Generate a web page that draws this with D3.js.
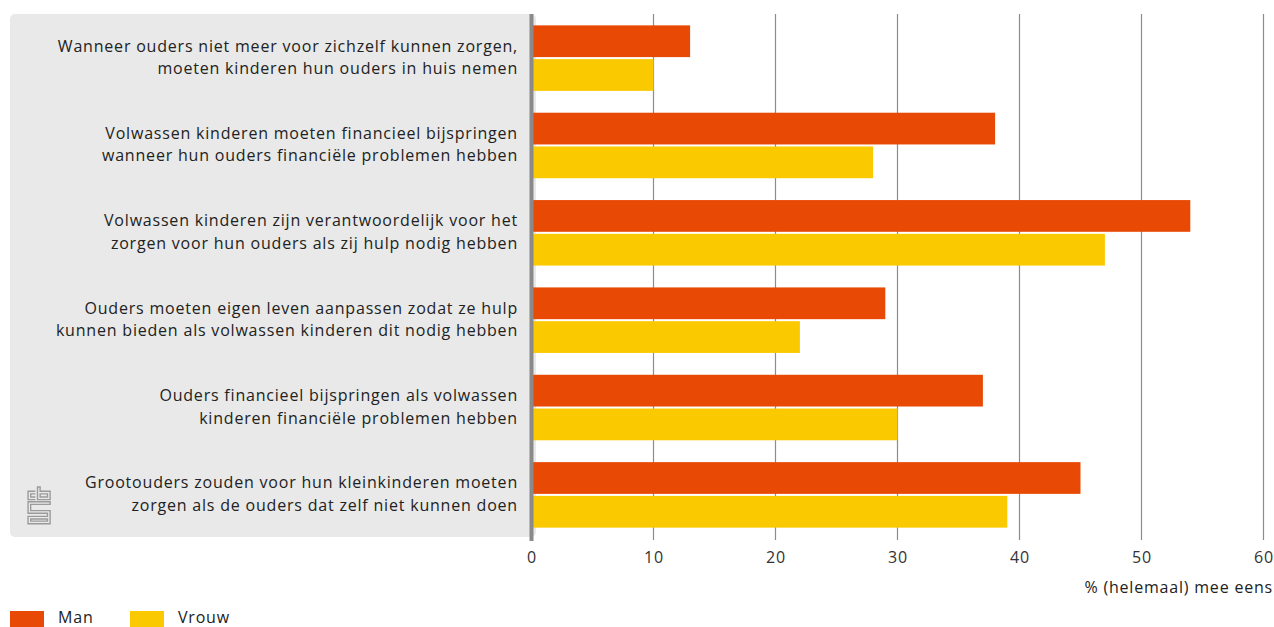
<!DOCTYPE html>
<html lang="nl">
<head>
<meta charset="UTF-8">
<title>Zorg tussen ouders en kinderen</title>
<script src="https://d3js.org/d3.v7.min.js"></script>
<style>
    body { margin: 0; background: #ffffff; }
    svg text { font-family: "Open Sans", "Noto Sans", sans-serif; letter-spacing: 0.8px; }
    .cat { fill: #222; font-size: 16px; text-anchor: end; }
    .tick text { fill: #333; font-size: 16px; }
    .lg { fill: #222; font-size: 16px; }
</style>
</head>
<body>
<svg width="1274" height="627"></svg>
<script>
// data
var categories = [
    ["Wanneer ouders niet meer voor zichzelf kunnen zorgen,", "moeten kinderen hun ouders in huis nemen"],
    ["Volwassen kinderen moeten financieel bijspringen", "wanneer hun ouders financiële problemen hebben"],
    ["Volwassen kinderen zijn verantwoordelijk voor het", "zorgen voor hun ouders als zij hulp nodig hebben"],
    ["Ouders moeten eigen leven aanpassen zodat ze hulp", "kunnen bieden als volwassen kinderen dit nodig hebben"],
    ["Ouders financieel bijspringen als volwassen", "kinderen financiële problemen hebben"],
    ["Grootouders zouden voor hun kleinkinderen moeten", "zorgen als de ouders dat zelf niet kunnen doen"]
];
var man = [13, 38, 54, 29, 37, 45];
var vrouw = [10, 28, 47, 22, 30, 39];
var seriesNames = ["Man", "Vrouw"];
var seriesColors = ["#e84a05", "#fbc900"];
var xTicks = [0, 10, 20, 30, 40, 50, 60];
var xTitle = "% (helemaal) mee eens";

var svg = d3.select("svg");

var x = d3.scaleLinear().domain([0, 60]).range([531.5, 1263.5]);
var y0 = d3.scaleBand().domain(d3.range(categories.length)).range([14, 539]).paddingInner(0.25).paddingOuter(0.13);
var y1 = d3.scaleBand().domain([0, 1]).range([0, y0.bandwidth()]).paddingInner(0.06);

// grey label panel
svg.append("rect")
    .attr("x", 10).attr("y", 14)
    .attr("width", 526).attr("height", 523)
    .attr("rx", 5)
    .attr("fill", "#e8e9e8");

// gridlines
svg.append("g").selectAll("line")
    .data(xTicks.slice(1))
    .join("line")
    .attr("x1", d => x(d)).attr("x2", d => x(d))
    .attr("y1", 14).attr("y2", 540)
    .attr("stroke", "#8c8c8c").attr("stroke-width", 1.2);

// bars
var groups = svg.append("g").selectAll("g")
    .data(categories)
    .join("g")
    .attr("transform", (d, i) => "translate(0," + y0(i) + ")");

groups.selectAll("rect")
    .data((d, i) => [man[i], vrouw[i]])
    .join("rect")
    .attr("x", x(0) + 1.5)
    .attr("y", (d, j) => y1(j))
    .attr("width", d => x(d) - x(0) - 1.5)
    .attr("height", y1.bandwidth())
    .attr("fill", (d, j) => seriesColors[j]);

// category labels
groups.append("text")
    .attr("class", "cat")
    .attr("x", 518)
    .attr("y", y0.bandwidth() / 2)
    .selectAll("tspan")
    .data(d => d)
    .join("tspan")
    .attr("x", 518)
    .attr("dy", (d, k) => k === 0 ? "-0.4em" : "1.4em")
    .text(d => d);

// zero axis line
svg.append("line")
    .attr("x1", x(0)).attr("x2", x(0))
    .attr("y1", 14).attr("y2", 541)
    .attr("stroke", "#8a8a8a").attr("stroke-width", 4);

// x axis labels
var xAxis = svg.append("g")
    .attr("transform", "translate(0,548)")
    .call(d3.axisBottom(x).tickValues(xTicks).tickSize(0).tickPadding(4));
xAxis.select(".domain").remove();

svg.append("text")
    .attr("class", "lg")
    .attr("x", 1273).attr("y", 593)
    .attr("text-anchor", "end")
    .text(xTitle);

// legend
var legend = svg.append("g").selectAll("g")
    .data(seriesNames)
    .join("g")
    .attr("transform", (d, i) => "translate(" + (10 + i * 120) + ",611)");
legend.append("rect")
    .attr("width", 34).attr("height", 16)
    .attr("fill", (d, i) => seriesColors[i]);
legend.append("text")
    .attr("class", "lg")
    .attr("x", 48).attr("y", 12)
    .text(d => d);

// cbs logo (rough)
var logo = svg.append("g")
    .attr("transform", "translate(27,487) scale(1.05)")
    .attr("fill", "none")
    .attr("stroke", "#9a9a9a")
    .attr("stroke-width", 1.3);
logo.append("path").attr("d", "M8,4 H1 V12 H8 M8,6.5 H3.5 V9.5 H8");
logo.append("path").attr("d", "M10,0 V12 H22 V4 H12.5 V0 Z M12.5,6.5 H19.5 V9.5 H12.5 Z");
logo.append("path").attr("d", "M22,14 H1 V25 H19.5 V28 H1 V35 H22 V22.5 H3.5 V16.5 H22 Z M3.5,30.5 H19.5 V32.5 H3.5 Z");
</script>
</body>
</html>
